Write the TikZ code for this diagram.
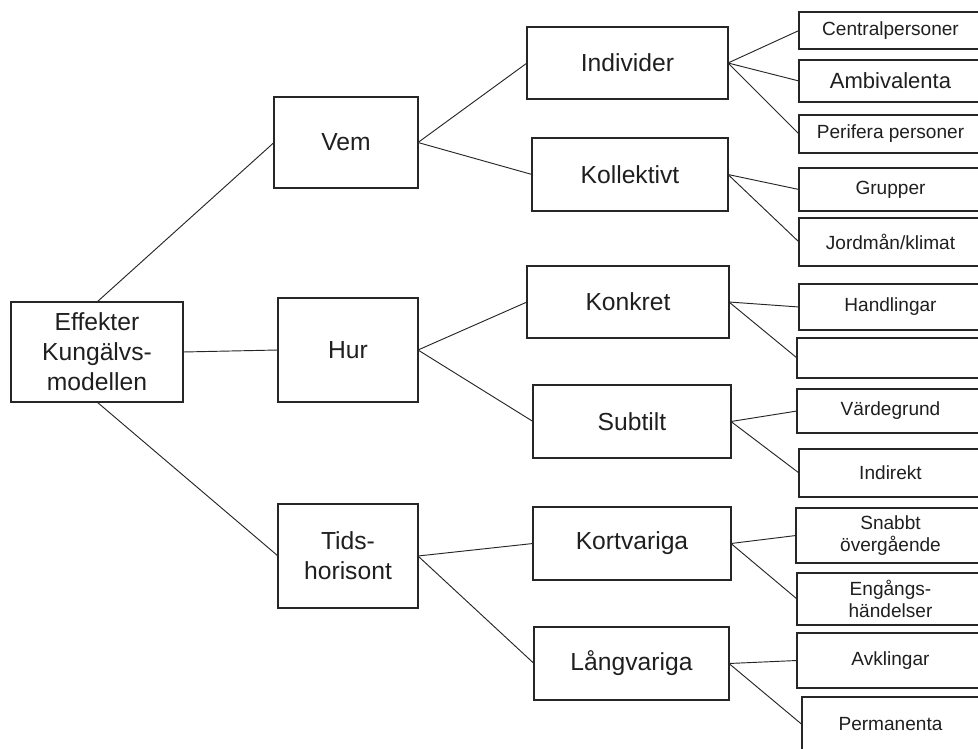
\documentclass[tikz,border=0pt]{standalone}
\usepackage{fontspec}
\setmainfont{Liberation Sans}
\tikzset{
  x=0.75pt, y=-0.75pt,
  base/.style={draw=black!85, line width=1.9pt, inner sep=0pt, outer sep=0pt, align=center, text=black!88},
  midbox/.style={base, font=\fontsize{18.5pt}{22.5pt}\selectfont},
  leaftext/.style={inner sep=0pt, align=center, text=black!88, font=\fontsize{14.3pt}{16.5pt}\selectfont},
  bigtext/.style={leaftext, font=\fontsize{16.5pt}{19pt}\selectfont},
  link/.style={draw=black!85, line width=0.7pt},
}
\newcommand\mybox[7]{\node[#1, minimum width={(#5-#3)*0.75pt}, minimum height={(#6-#4)*0.75pt}] (#2) at ({(#3+#5)/2},{(#4+#6)/2}) {#7};}
% leaf: style, name, x1, y1, y2, text -- box runs past the right edge, text centred at x=890
\newcommand\myleaf[6]{\node[base, minimum width={(1000-#3)*0.75pt}, minimum height={(#5-#4)*0.75pt}] (#2) at ({(#3+1000)/2},{(#4+#5)/2}) {};
  \node[#1] (#2-t) at (890.5,{(#4+#5)/2}) {#6};}
\begin{document}
\begin{tikzpicture}
\useasboundingbox (0,0) rectangle (978,749);
\clip (0,0) rectangle (978,749);
% level 0
\mybox{midbox}{root}{11}{302}{183}{402}{Effekter\\Kungälvs-\\modellen}
% level 1
\mybox{midbox}{vem}{274}{97}{418}{188}{Vem}
\mybox{midbox}{hur}{278}{298}{418}{402}{Hur}
\mybox{midbox}{tids}{278}{504}{418}{608}{Tids-\\horisont}
% level 2
\mybox{midbox}{ind}{527}{27}{728}{99}{Individer}
\mybox{midbox}{kol}{532}{138}{728}{211}{Kollektivt}
\mybox{midbox}{kon}{527}{266}{729}{338}{Konkret}
\mybox{midbox}{sub}{533}{385}{731}{458}{Subtilt}
\mybox{midbox}{kort}{533}{507}{731}{580}{Kortvariga}
\mybox{midbox}{lang}{534}{627}{729}{700}{Långvariga}
% level 3
\myleaf{leaftext}{cen}{799}{12}{49}{Centralpersoner}
\myleaf{bigtext}{amb}{799}{60}{102}{Ambivalenta}
\myleaf{leaftext}{per}{799}{115}{153}{Perifera personer}
\myleaf{leaftext}{gru}{799}{168}{211}{Grupper}
\myleaf{leaftext}{jor}{799}{218}{266}{Jordmån/klimat}
\myleaf{leaftext}{han}{799}{284}{330}{Handlingar}
\myleaf{leaftext}{emp}{797}{338}{378}{}
\myleaf{leaftext}{var}{797}{389}{433}{Värdegrund}
\myleaf{leaftext}{indi}{799}{449}{497}{Indirekt}
\myleaf{leaftext}{sna}{796}{508}{563}{Snabbt\\övergående}
\myleaf{leaftext}{eng}{797}{573}{625}{Engångs-\\händelser}
\myleaf{leaftext}{avk}{797}{633}{688}{Avklingar}
\myleaf{leaftext}{perm}{802}{697}{752}{Permanenta}
% connectors
\draw[link] (root.north) -- (vem.west);
\draw[link] (root.east) -- (hur.west);
\draw[link] (root.south) -- (tids.west);
\draw[link] (vem.east) -- (ind.west);
\draw[link] (vem.east) -- (kol.west);
\draw[link] (hur.east) -- (kon.west);
\draw[link] (hur.east) -- (sub.west);
\draw[link] (tids.east) -- (kort.west);
\draw[link] (tids.east) -- (lang.west);
\draw[link] (ind.east) -- (cen.west);
\draw[link] (ind.east) -- (amb.west);
\draw[link] (ind.east) -- (per.west);
\draw[link] (kol.east) -- (gru.west);
\draw[link] (kol.east) -- (jor.west);
\draw[link] (kon.east) -- (han.west);
\draw[link] (kon.east) -- (emp.west);
\draw[link] (sub.east) -- (var.west);
\draw[link] (sub.east) -- (indi.west);
\draw[link] (kort.east) -- (sna.west);
\draw[link] (kort.east) -- (eng.west);
\draw[link] (lang.east) -- (avk.west);
\draw[link] (lang.east) -- (perm.west);
\end{tikzpicture}
\end{document}
